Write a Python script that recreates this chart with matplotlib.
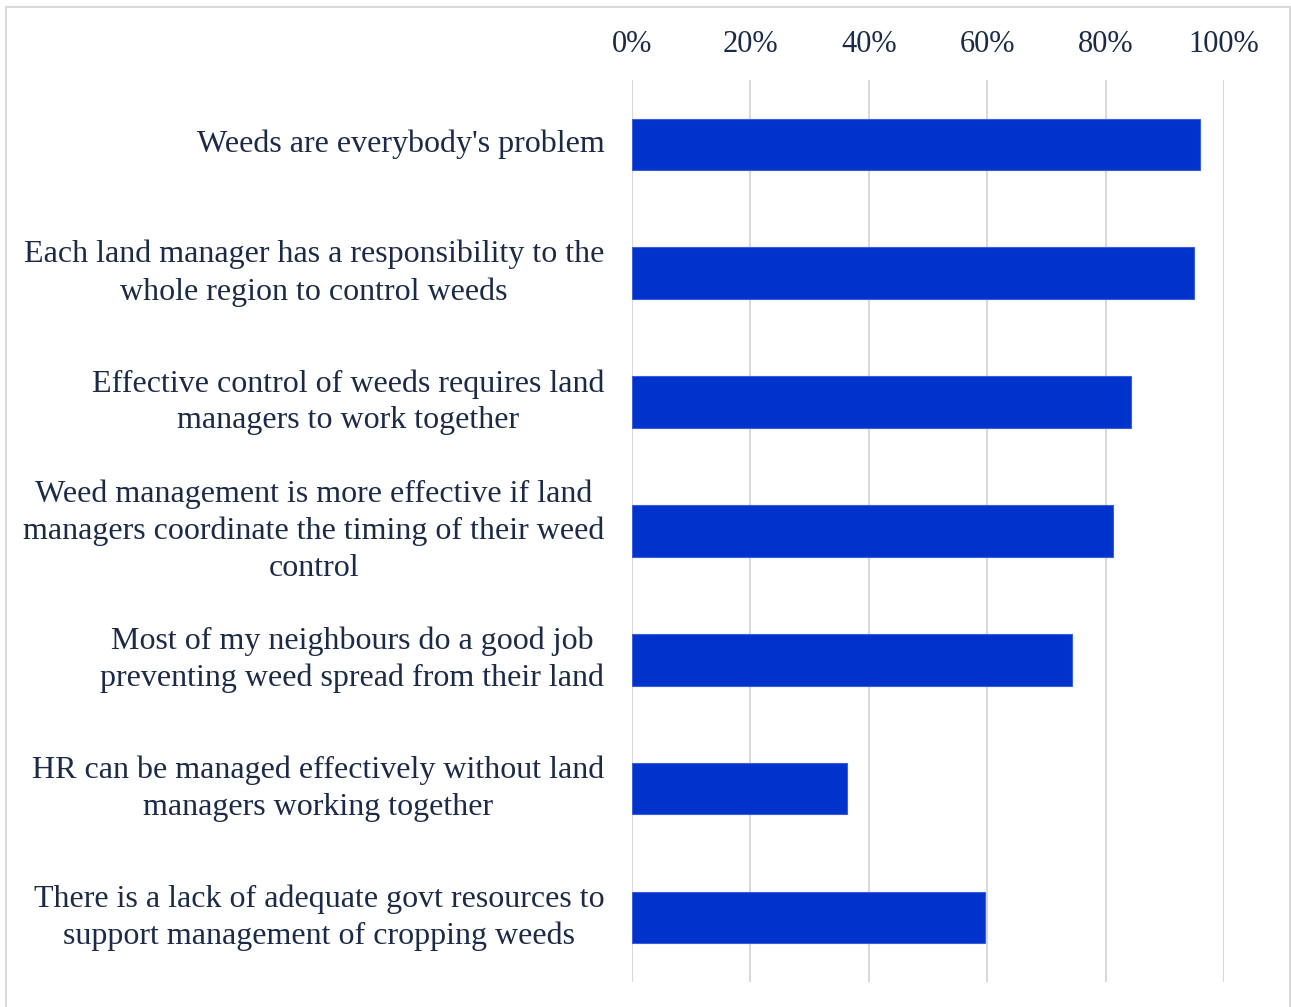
import matplotlib.pyplot as plt
from matplotlib.patches import Rectangle
from matplotlib.ticker import PercentFormatter

statements = [
    "Weeds are everybody's problem",
    "Each land manager has a responsibility to the\nwhole region to control weeds",
    "Effective control of weeds requires land\nmanagers to work together",
    "Weed management is more effective if land\nmanagers coordinate the timing of their weed\ncontrol",
    "Most of my neighbours do a good job\npreventing weed spread from their land",
    "HR can be managed effectively without land\nmanagers working together",
    "There is a lack of adequate govt resources to\nsupport management of cropping weeds",
]
agree = [0.959, 0.950, 0.843, 0.813, 0.744, 0.363, 0.596]
ticks = [0, 0.2, 0.4, 0.6, 0.8, 1.0]

text_col = "#1B2A47"
bar_col = "#0033CC"

plt.rcParams["font.family"] = ["Liberation Serif", "DejaVu Serif"]

fig = plt.figure(figsize=(12.91, 10.07), dpi=100)
ax = fig.add_axes([0.4896, 0.0248, 0.4585, 0.8958])

pos = list(range(len(statements)))
ax.barh(pos, agree, height=0.4, color=bar_col, edgecolor="#3A5FDB",
        linewidth=0.8, zorder=3)

ax.set_xlim(0, 1)
ax.set_ylim(len(statements) - 0.5, -0.5)
ax.set_xticks(ticks)
ax.xaxis.set_major_formatter(PercentFormatter(1.0, decimals=0))
ax.xaxis.tick_top()
ax.tick_params(axis="x", length=0, pad=15, labelsize=22, labelcolor=text_col)
ax.tick_params(axis="y", length=0, pad=20, labelsize=23, labelcolor=text_col)
ax.set_yticks(pos)
ax.set_yticklabels(statements)
for lbl in ax.get_yticklabels():
    lbl.set_multialignment("center")
    lbl.set_linespacing(1.35)
    lbl.set_verticalalignment("center")

ax.grid(axis="x", color="#D9D9D9", linewidth=1.5, zorder=0)
for s in ax.spines.values():
    s.set_visible(False)

# light frame round the whole chart
fig.patches.append(Rectangle((6 / 1291, -0.01), 1284 / 1291, 1 - 7 / 1007 + 0.01,
                             transform=fig.transFigure, fill=False,
                             edgecolor="#D9D9D9", linewidth=1.5))

fig.savefig("out.png", dpi=100, facecolor="white")
